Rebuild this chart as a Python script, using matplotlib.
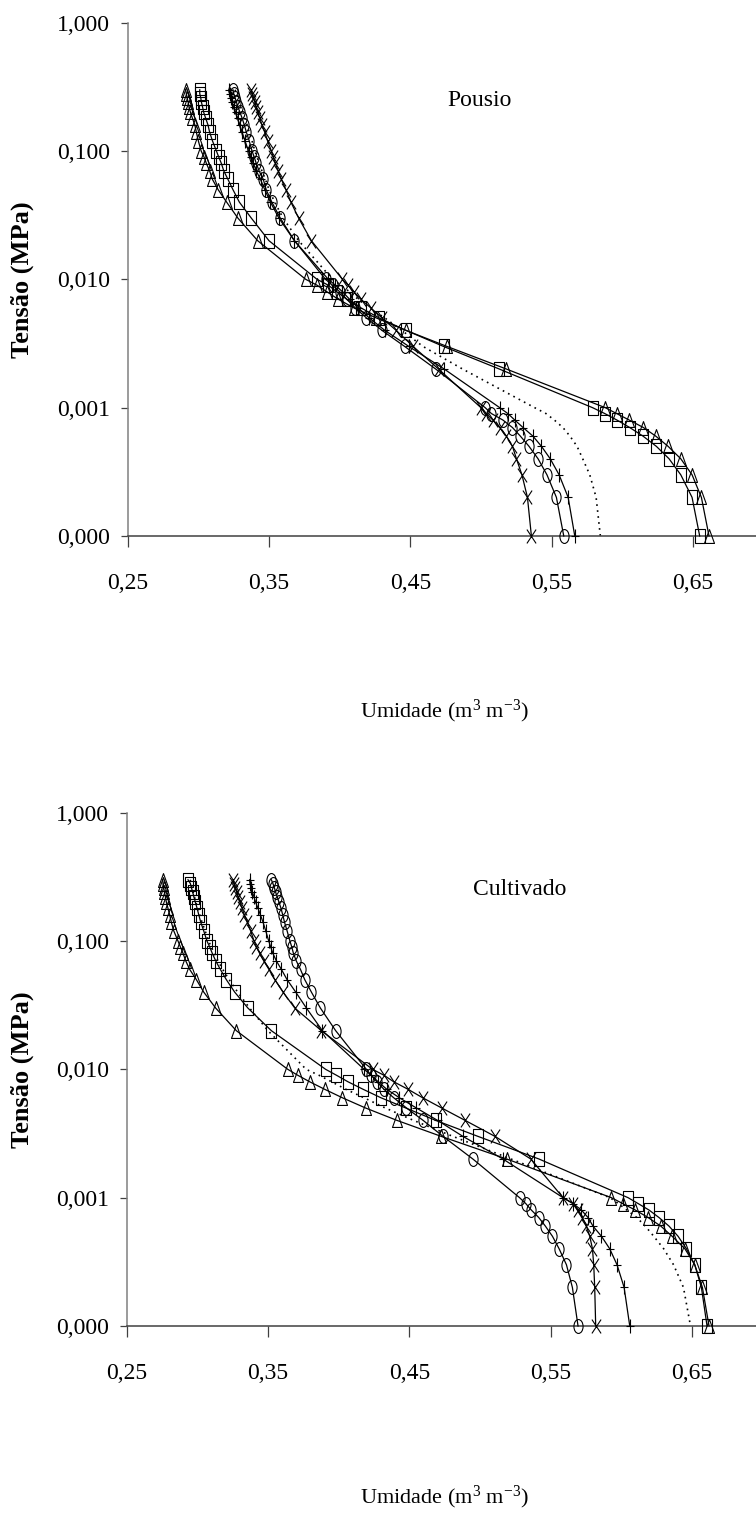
import matplotlib
matplotlib.use("Agg")
import matplotlib.pyplot as plt
from matplotlib.path import Path
from matplotlib.transforms import Affine2D
from matplotlib.ticker import FixedLocator, FixedFormatter

plt.rcParams['font.family'] = ['Liberation Serif', 'DejaVu Serif']
plt.rcParams['mathtext.fontset'] = 'custom'
plt.rcParams['mathtext.rm'] = 'Liberation Serif'
plt.rcParams['mathtext.it'] = 'Liberation Serif:italic'
plt.rcParams['mathtext.bf'] = 'Liberation Serif:bold'

# tensao (MPa), comum a todas as series
tensao = [0.3, 0.28, 0.26, 0.24, 0.22, 0.2, 0.18, 0.16, 0.14, 0.12,
          0.1, 0.09, 0.08, 0.07, 0.06, 0.05, 0.04, 0.03, 0.02,
          0.01, 0.009, 0.008, 0.007, 0.006, 0.005, 0.004, 0.003, 0.002,
          0.001, 0.0009, 0.0008, 0.0007, 0.0006, 0.0005, 0.0004, 0.0003, 0.0002, 0.0001]

# umidade (m3 m-3) - Pousio
pousio_tri = [0.291, 0.2915, 0.292, 0.2928, 0.2934, 0.2944, 0.2958, 0.2975, 0.2986, 0.300,
              0.302, 0.304, 0.3057, 0.308, 0.310, 0.314, 0.320, 0.328, 0.342,
              0.376, 0.384, 0.391, 0.399, 0.410, 0.426, 0.447, 0.476, 0.518,
              0.588, 0.596, 0.605, 0.615, 0.6237, 0.6324, 0.6414, 0.6494, 0.656, 0.6614]
pousio_quad = [0.301, 0.301, 0.3017, 0.3022, 0.303, 0.3038, 0.3052, 0.3068, 0.308, 0.310,
               0.3128, 0.3144, 0.3163, 0.318, 0.321, 0.3245, 0.329, 0.3375, 0.350,
               0.384, 0.392, 0.398, 0.405, 0.415, 0.428, 0.447, 0.4735, 0.513,
               0.579, 0.5876, 0.5963, 0.6053, 0.6147, 0.6241, 0.6331, 0.6414, 0.6494, 0.6548]
pousio_circ = [0.3245, 0.325, 0.326, 0.327, 0.328, 0.3295, 0.331, 0.3325, 0.334, 0.336,
               0.338, 0.3395, 0.341, 0.343, 0.346, 0.348, 0.352, 0.358, 0.368,
               0.390, 0.395, 0.400, 0.405, 0.411, 0.419, 0.430, 0.446, 0.468,
               0.503, 0.5074, 0.5156, 0.5223, 0.5279, 0.534, 0.5404, 0.5467, 0.5534, 0.5586]
pousio_mais = [0.3217, 0.3222, 0.323, 0.324, 0.325, 0.3263, 0.3278, 0.3293, 0.331, 0.333,
               0.3355, 0.337, 0.339, 0.341, 0.344, 0.347, 0.351, 0.357, 0.368,
               0.392, 0.397, 0.402, 0.407, 0.413, 0.421, 0.432, 0.449, 0.474,
               0.5133, 0.519, 0.524, 0.5298, 0.5368, 0.5428, 0.549, 0.5553, 0.5617, 0.5664]
pousio_xis = [0.3375, 0.338, 0.339, 0.340, 0.341, 0.342, 0.3435, 0.345, 0.347, 0.349,
              0.3517, 0.353, 0.3545, 0.3565, 0.3588, 0.362, 0.3655, 0.371, 0.380,
              0.402, 0.406, 0.410, 0.415, 0.422, 0.430, 0.440, 0.452, 0.470,
              0.500, 0.5038, 0.5085, 0.5133, 0.518, 0.5223, 0.5251, 0.529, 0.5329, 0.5357]
pousio_pont = [0.326, 0.327, 0.328, 0.329, 0.330, 0.3315, 0.333, 0.3345, 0.336, 0.338,
               0.340, 0.3415, 0.343, 0.345, 0.3475, 0.350, 0.354, 0.360, 0.371,
               0.395, 0.401, 0.407, 0.413, 0.421, 0.432, 0.444, 0.459, 0.487,
               0.538, 0.546, 0.552, 0.558, 0.563, 0.568, 0.572, 0.577, 0.5815, 0.5845]

# umidade (m3 m-3) - Cultivado
cult_tri = [0.2755, 0.2757, 0.2762, 0.2767, 0.2774, 0.2781, 0.2792, 0.2804, 0.2816, 0.2833,
            0.2863, 0.288, 0.2899, 0.2918, 0.2946, 0.2993, 0.3045, 0.313, 0.3276,
            0.364, 0.371, 0.3795, 0.390, 0.4027, 0.419, 0.4413, 0.4727, 0.519,
            0.593, 0.601, 0.610, 0.619, 0.628, 0.636, 0.645, 0.652, 0.6574, 0.6621]
cult_quad = [0.2934, 0.2951, 0.2958, 0.2967, 0.2976, 0.2986, 0.2998, 0.301, 0.3024, 0.3045,
             0.3068, 0.3087, 0.3106, 0.313, 0.3163, 0.3205, 0.3264, 0.3358, 0.3524,
             0.3908, 0.3984, 0.4066, 0.4172, 0.430, 0.4475, 0.4687, 0.4987, 0.5418,
             0.6048, 0.6119, 0.6197, 0.6267, 0.6338, 0.6402, 0.6461, 0.652, 0.6567, 0.6607]
cult_circ = [0.3524, 0.3535, 0.3545, 0.3554, 0.3566, 0.3578, 0.3592, 0.3604, 0.3617, 0.3635,
             0.3655, 0.3668, 0.368, 0.370, 0.373, 0.376, 0.3807, 0.3871, 0.3979,
             0.4196, 0.423, 0.427, 0.432, 0.439, 0.448, 0.4598, 0.4739, 0.495,
             0.528, 0.5324, 0.5364, 0.5416, 0.5463, 0.5513, 0.556, 0.5612, 0.5654, 0.5694]
cult_mais = [0.337, 0.3373, 0.338, 0.339, 0.3401, 0.3413, 0.3429, 0.3446, 0.3465, 0.3484,
             0.3505, 0.3519, 0.3535, 0.3559, 0.3595, 0.3635, 0.3696, 0.3772, 0.3885,
             0.418, 0.423, 0.428, 0.434, 0.443, 0.455, 0.470, 0.488, 0.5163,
             0.5588, 0.5659, 0.5718, 0.5765, 0.580, 0.586, 0.5918, 0.597, 0.602, 0.606]
cult_xis = [0.3252, 0.326, 0.3269, 0.3278, 0.329, 0.3302, 0.3316, 0.3333, 0.3354, 0.3377,
            0.3401, 0.3418, 0.3441, 0.347, 0.3507, 0.3548, 0.3606, 0.369, 0.3878,
            0.424, 0.432, 0.439, 0.449, 0.4595, 0.4729, 0.4895, 0.5107, 0.536,
            0.5588, 0.5659, 0.5694, 0.5725, 0.5753, 0.5777, 0.5796, 0.5805, 0.5812, 0.5819]
cult_pont = [0.295, 0.2955, 0.2962, 0.297, 0.298, 0.299, 0.3003, 0.3017, 0.3033, 0.3055,
             0.308, 0.3098, 0.312, 0.3146, 0.318, 0.3225, 0.3285, 0.337, 0.350,
             0.377, 0.386, 0.395, 0.405, 0.418, 0.433, 0.453, 0.481, 0.522,
             0.592, 0.598, 0.604, 0.611, 0.617, 0.623, 0.630, 0.637, 0.644, 0.649]

y_ticks = [0.0001, 0.001, 0.01, 0.1, 1.0]
y_labels = ['0,000', '0,001', '0,010', '0,100', '1,000']
x_ticks = [0.25, 0.35, 0.45, 0.55, 0.65]
x_labels = ['0,25', '0,35', '0,45', '0,55', '0,65']

# marcadores um pouco mais altos que largos, como no original
elipse = Path.unit_circle().transformed(Affine2D().scale(0.66, 1.0))
triangulo = Path([(0, 1), (-0.72, -1), (0.72, -1), (0, 1)], closed=True)
quadrado = Path([(-0.76, -1), (0.76, -1), (0.76, 1), (-0.76, 1), (-0.76, -1)], closed=True)
xis = Path([(-0.66, -1), (0.66, 1), (-0.66, 1), (0.66, -1)],
           [Path.MOVETO, Path.LINETO, Path.MOVETO, Path.LINETO])
mais = Path([(0, -1), (0, 1), (-0.62, 0), (0.62, 0)],
            [Path.MOVETO, Path.LINETO, Path.MOVETO, Path.LINETO])

fig = plt.figure(figsize=(7.56, 15.13), dpi=100)


def painel(rect, series, pontilhado, titulo, titulo_xy, ylab_y, xlab_y):
    ax = fig.add_axes(rect)
    ax.set_yscale('log')
    ax.set_xlim(0.25, 0.70)
    ax.set_ylim(0.0001, 1.0)

    for valores, marc in series:
        ax.plot(valores, tensao, color='black', lw=0.9, marker=marc, ms=10,
                mfc='none', mec='black', mew=0.8, clip_on=False, zorder=3)
    ax.plot(pontilhado, tensao, color='black', lw=1.2, ls=(0, (1, 2.6)),
            clip_on=False, zorder=2)

    ax.yaxis.set_major_locator(FixedLocator(y_ticks))
    ax.yaxis.set_major_formatter(FixedFormatter(y_labels))
    ax.yaxis.set_minor_locator(FixedLocator([]))
    ax.xaxis.set_major_locator(FixedLocator(x_ticks))
    ax.xaxis.set_major_formatter(FixedFormatter(x_labels))

    for s in ['top', 'right']:
        ax.spines[s].set_visible(False)
    ax.spines['left'].set_color('#808080')
    ax.spines['left'].set_linewidth(1.1)
    ax.spines['bottom'].set_color('#404040')
    ax.spines['bottom'].set_linewidth(1.1)
    ax.tick_params(axis='y', direction='out', length=5, width=0.9, color='#404040',
                   pad=7.5, labelsize=17)
    ax.tick_params(axis='x', direction='out', length=7.7, width=0.9, color='#404040',
                   pad=19, labelsize=17)

    fig.text(titulo_xy[0], titulo_xy[1], titulo, fontsize=17, ha='left', va='center')
    fig.text(0.029, ylab_y, 'Tensão (MPa)', fontsize=19, fontweight='bold',
             rotation=90, ha='center', va='center')
    fig.text(0.5873, xlab_y, r'Umidade (m$^{3}$ m$^{\mathregular{-}3}$)', fontsize=16,
             ha='center', va='center')
    return ax


painel([0.1689, 0.64574, 0.8411, 0.33926],
       [(pousio_tri, triangulo), (pousio_quad, quadrado), (pousio_circ, elipse),
        (pousio_mais, mais), (pousio_xis, xis)],
       pousio_pont, 'Pousio', (0.5913, 0.9339), 0.8153, 0.5300)

painel([0.1676, 0.12360, 0.8411, 0.33926],
       [(cult_tri, triangulo), (cult_quad, quadrado), (cult_circ, elipse),
        (cult_mais, mais), (cult_xis, xis)],
       cult_pont, 'Cultivado', (0.6257, 0.4118), 0.2932, 0.0106)

fig.savefig('out.png', dpi=100)
